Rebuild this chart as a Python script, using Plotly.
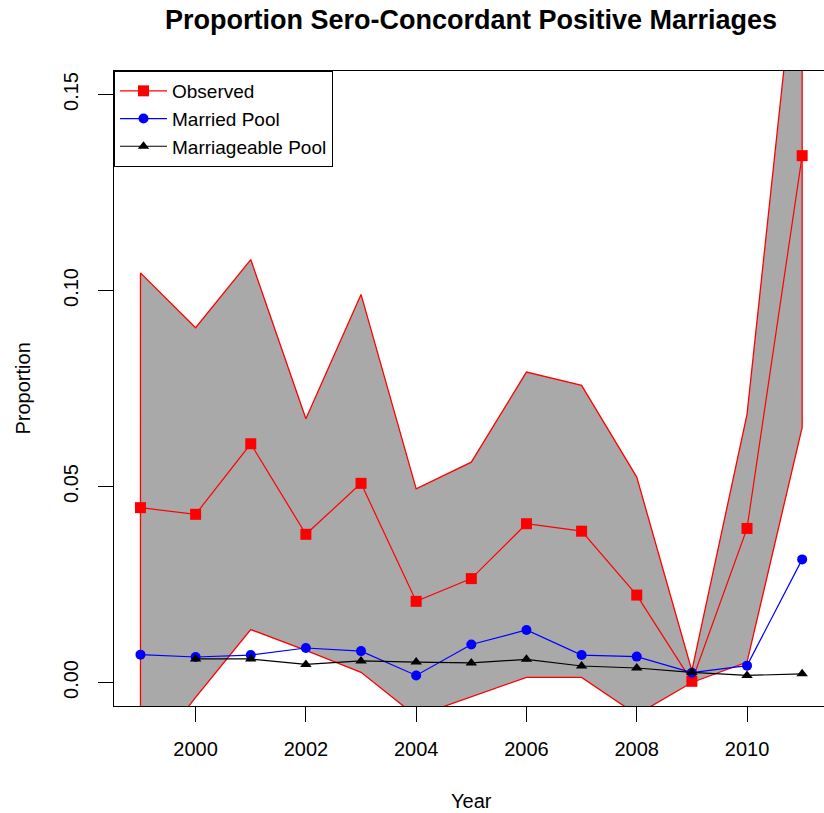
import plotly.graph_objects as go

years = list(range(1999, 2012))
observed = [0.0446, 0.0429, 0.0609, 0.0378, 0.0508, 0.0207, 0.0265, 0.0405, 0.0386, 0.0223, 0.0003, 0.0393, 0.1344]
upper = [0.1045, 0.0905, 0.1079, 0.0673, 0.0990, 0.0494, 0.0562, 0.0792, 0.0758, 0.0524, 0.0030, 0.0684, 0.2000]
lower = [-0.0220, -0.0038, 0.0135, 0.0082, 0.0026, -0.0086, -0.0036, 0.0013, 0.0013, -0.0082, 0.0000, 0.0052, 0.0651]
married = [0.0071, 0.0065, 0.0070, 0.0088, 0.0080, 0.0018, 0.0097, 0.0134, 0.0070, 0.0066, 0.0025, 0.0043, 0.0314]
marriageable = [None, 0.0060, 0.0060, 0.0046, 0.0055, 0.0052, 0.0050, 0.0059, 0.0042, 0.0037, 0.0026, 0.0018, 0.0022]

x_ticks = [2000, 2002, 2004, 2006, 2008, 2010]
y_ticks = [0.00, 0.05, 0.10, 0.15]

FONT = "Liberation Sans, Arial, sans-serif"

fig = go.Figure()

# confidence band polygon
band_x = years + years[::-1] + [years[0]]
band_y = upper + lower[::-1] + [upper[0]]
fig.add_trace(go.Scatter(
    x=band_x, y=band_y, mode="lines", fill="toself",
    fillcolor="#A9A9A9", line=dict(color="red", width=1.3),
    showlegend=False, hoverinfo="skip"))

fig.add_trace(go.Scatter(
    x=years, y=observed, mode="lines+markers", name="Observed",
    line=dict(color="red", width=1.2),
    marker=dict(symbol="square", size=11, color="red")))
fig.add_trace(go.Scatter(
    x=years, y=married, mode="lines+markers", name="Married Pool",
    line=dict(color="blue", width=1.2),
    marker=dict(symbol="circle", size=10, color="blue")))
fig.add_trace(go.Scatter(
    x=years, y=marriageable, mode="lines+markers", name="Marriageable Pool",
    line=dict(color="black", width=1.2),
    marker=dict(symbol="triangle-up", size=10, color="black")))

fig.update_layout(
    width=824, height=813,
    margin=dict(l=114, r=0, t=71, b=107),
    paper_bgcolor="white", plot_bgcolor="white",
    font=dict(family=FONT, size=19, color="black"),
    title=dict(text="<b>Proportion Sero-Concordant Positive Marriages</b>",
               x=471/824, xref="container", xanchor="center",
               y=1-20/813, yref="container", yanchor="middle",
               font=dict(size=27, family=FONT, color="black")),
    xaxis=dict(range=[1998.52, 2011.396], tickvals=x_ticks,
               ticks="outside", ticklen=15, tickcolor="black", tickwidth=1,
               showline=True, mirror=True, linecolor="black", linewidth=1,
               showgrid=False, zeroline=False, ticklabelstandoff=10,
               tickfont=dict(size=20)),
    yaxis=dict(range=[-0.006, 0.156], tickvals=y_ticks, tickformat=".2f",
               tickangle=-90,
               ticks="outside", ticklen=15, tickcolor="black", tickwidth=1,
               showline=True, mirror=True, linecolor="black", linewidth=1,
               showgrid=False, zeroline=False, ticklabelstandoff=12,
               tickfont=dict(size=20)),
    legend=dict(x=0, y=1, xanchor="left", yanchor="top",
                bordercolor="black", borderwidth=1, bgcolor="white",
                font=dict(size=19), tracegroupgap=0, itemwidth=47),
    annotations=[
        dict(text="Year", xref="paper", yref="paper", x=(471-114)/710,
             y=-(800-705.5)/635, xanchor="center", yanchor="middle",
             showarrow=False, font=dict(size=20)),
        dict(text="Proportion", xref="paper", yref="paper",
             x=-(114-22)/710, y=(705.5-388)/635, textangle=-90,
             xanchor="center", yanchor="middle", showarrow=False,
             font=dict(size=20)),
    ],
)

fig.write_html("out.html", config={"displayModeBar": False},
               post_script="document.body.style.margin='0';")
